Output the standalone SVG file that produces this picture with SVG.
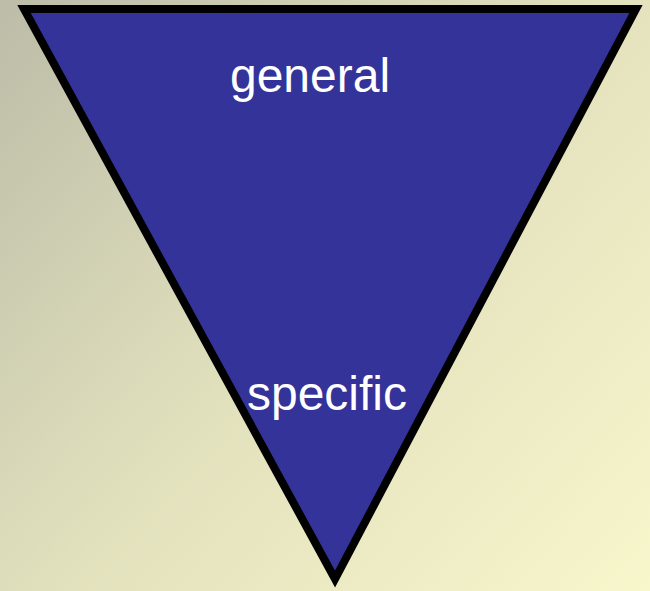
<svg xmlns="http://www.w3.org/2000/svg" width="650" height="591" viewBox="0 0 650 591">
<defs>
<linearGradient id="bg" x1="0" y1="0" x2="650" y2="591" gradientUnits="userSpaceOnUse">
<stop offset="0" stop-color="#bcbca8"/>
<stop offset="0.5" stop-color="#e2e1bd"/>
<stop offset="1" stop-color="#f8f6cb"/>
</linearGradient>
<style>
.lbl{font-family:"Liberation Sans",Arial,sans-serif;font-size:48px;fill:#ffffff;text-anchor:middle}
</style>
</defs>
<rect width="650" height="591" fill="url(#bg)"/>
<g id="funnel">
<polygon points="24,9 636,9 335,579" fill="#333399" stroke="#000000" stroke-width="8" stroke-linejoin="miter" stroke-miterlimit="10"/>
</g>
<g id="general"><text class="lbl" x="310" y="92">general</text></g>
<g id="specific"><text class="lbl" x="327" y="410">specific</text></g>
<g id="connectors"/>
</svg>
